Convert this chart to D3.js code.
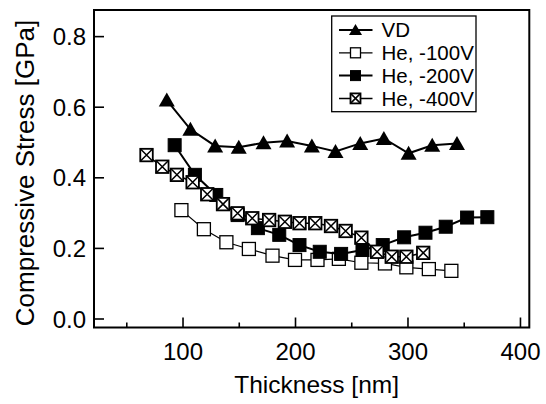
<!DOCTYPE html>
<html>
<head>
<meta charset="utf-8">
<script src="https://cdn.jsdelivr.net/npm/d3@7"></script>
<style>
  body { margin: 0; background: #fff; }
  text { font-family: "Liberation Sans", Arial, sans-serif; fill: #000; }
</style>
</head>
<body>
<svg id="chart" width="546" height="404"></svg>
<script>
// thickness [nm] and compressive stress [GPa]
var vdX = [86, 107, 129, 150, 172, 193, 215, 236, 258, 279, 301, 322, 344];
var vdY = [0.619, 0.536, 0.489, 0.485, 0.498, 0.503, 0.489, 0.473, 0.496, 0.510, 0.468, 0.491, 0.496];

var he100X = [99, 119, 139, 159, 180, 200, 220, 239, 259, 280, 299, 319, 339];
var he100Y = [0.307, 0.253, 0.216, 0.197, 0.178, 0.166, 0.166, 0.169, 0.158, 0.156, 0.145, 0.140, 0.135];

var he200X = [93, 111, 130, 149, 167, 186, 204, 222, 241, 260, 278, 297, 316, 334, 353, 371];
var he200Y = [0.491, 0.407, 0.350, 0.293, 0.256, 0.237, 0.208, 0.189, 0.183, 0.194, 0.208, 0.230, 0.243, 0.260, 0.286, 0.287];

var he400X = [68, 82, 95, 109, 122, 136, 149, 162, 177, 191, 204, 218, 232, 245, 259, 273, 286, 299, 314];
var he400Y = [0.463, 0.430, 0.407, 0.386, 0.352, 0.324, 0.298, 0.284, 0.279, 0.274, 0.270, 0.270, 0.262, 0.248, 0.229, 0.189, 0.175, 0.175, 0.186];

var seriesNames = ["VD", "He, -100V", "He, -200V", "He, -400V"];
var xTicks = [100, 200, 300, 400];
var xMinorTicks = [50, 150, 250, 350];
var yTicks = [0.0, 0.2, 0.4, 0.6, 0.8];

var svg = d3.select("#chart");
var pLeft = 94, pRight = 529.3, pTop = 10, pBottom = 327.5;

var x = d3.scaleLinear().domain([21.3, 408.3]).range([pLeft, pRight]);
var y = d3.scaleLinear().domain([-0.0255, 0.874]).range([pBottom, pTop]);

function zip(xs, ys) { return xs.map(function(v, i) { return {x: v, y: ys[i]}; }); }

var series = [
  {name: seriesNames[0], pts: zip(vdX, vdY), marker: "tri", lw: 2},
  {name: seriesNames[1], pts: zip(he100X, he100Y), marker: "open", lw: 1.2},
  {name: seriesNames[2], pts: zip(he200X, he200Y), marker: "filled", lw: 2},
  {name: seriesNames[3], pts: zip(he400X, he400Y), marker: "cross", lw: 1.5}
];

// axes, ticks pointing inward
var xAxis = d3.axisBottom(x).tickValues(xTicks).tickSizeInner(-10).tickSizeOuter(0).tickPadding(15)
  .tickFormat(d3.format("d"));
var gx = svg.append("g").attr("transform", "translate(0," + pBottom + ")").call(xAxis);
svg.append("g").attr("transform", "translate(0," + pBottom + ")")
  .call(d3.axisBottom(x).tickValues(xMinorTicks).tickSizeInner(-5).tickSizeOuter(0).tickFormat(""));

var yAxis = d3.axisLeft(y).tickValues(yTicks).tickSizeInner(-10).tickSizeOuter(0).tickPadding(8)
  .tickFormat(d3.format(".1f"));
var gy = svg.append("g").attr("transform", "translate(" + pLeft + ",0)").call(yAxis);

svg.selectAll(".domain").remove();
svg.selectAll(".tick line").attr("stroke", "#000").attr("stroke-width", 1.6);
gx.selectAll("text").style("font-size", "24px");
gy.selectAll("text").style("font-size", "24px").attr("dy", "0.36em");

svg.append("rect")
  .attr("x", pLeft).attr("y", pTop)
  .attr("width", pRight - pLeft).attr("height", pBottom - pTop)
  .attr("fill", "none").attr("stroke", "#000").attr("stroke-width", 2);

svg.append("text")
  .attr("x", (pLeft + pRight) / 2 + 5).attr("y", 393)
  .attr("text-anchor", "middle").style("font-size", "24.5px")
  .text("Thickness [nm]");

svg.append("text")
  .attr("transform", "translate(34,173) rotate(-90)")
  .attr("text-anchor", "middle").style("font-size", "26px")
  .text("Compressive Stress [GPa]");

function drawMarker(g, type, s) {
  var h = s / 2;
  if (type === "tri") {
    g.append("path").attr("d", "M0," + (-h - 1) + "L" + (h + 1.5) + "," + (h) + "L" + (-h - 1.5) + "," + (h) + "Z")
      .attr("fill", "#000");
  } else if (type === "open") {
    g.append("rect").attr("x", -h).attr("y", -h).attr("width", s).attr("height", s)
      .attr("fill", "#fff").attr("stroke", "#000").attr("stroke-width", 1.3);
  } else if (type === "filled") {
    g.append("rect").attr("x", -h).attr("y", -h).attr("width", s).attr("height", s)
      .attr("fill", "#000").attr("stroke", "#000").attr("stroke-width", 1);
  } else {
    g.append("rect").attr("x", -h).attr("y", -h).attr("width", s).attr("height", s)
      .attr("fill", "#fff").attr("stroke", "#000").attr("stroke-width", 1.8);
    g.append("path").attr("d", "M" + (-h) + "," + (-h) + "L" + h + "," + h + "M" + h + "," + (-h) + "L" + (-h) + "," + h)
      .attr("stroke", "#000").attr("stroke-width", 1.5);
  }
}

var line = d3.line().x(function(d) { return x(d.x); }).y(function(d) { return y(d.y); });

series.forEach(function(s) {
  var g = svg.append("g");
  g.append("path").datum(s.pts).attr("d", line)
    .attr("fill", "none").attr("stroke", "#000").attr("stroke-width", s.lw);
  g.selectAll("g.m").data(s.pts).enter().append("g").attr("class", "m")
    .attr("transform", function(d) { return "translate(" + x(d.x) + "," + y(d.y) + ")"; })
    .each(function() { drawMarker(d3.select(this), s.marker, s.marker === "cross" ? 12.5 : 13); });
});

// legend
var lg = svg.append("g");
lg.append("rect").attr("x", 331.7).attr("y", 16).attr("width", 144.3).attr("height", 95.7)
  .attr("fill", "#fff").attr("stroke", "#000").attr("stroke-width", 1.3);
series.forEach(function(s, i) {
  var cy = 30 + i * 22.8;
  lg.append("line").attr("x1", 339).attr("x2", 372.5).attr("y1", cy).attr("y2", cy)
    .attr("stroke", "#000").attr("stroke-width", s.lw);
  var m = lg.append("g").attr("transform", "translate(355.5," + cy + ")");
  drawMarker(m, s.marker, 10);
  lg.append("text").attr("x", 381.5).attr("y", cy).attr("dy", "0.36em")
    .style("font-size", "20.5px").text(s.name);
});
</script>
</body>
</html>
